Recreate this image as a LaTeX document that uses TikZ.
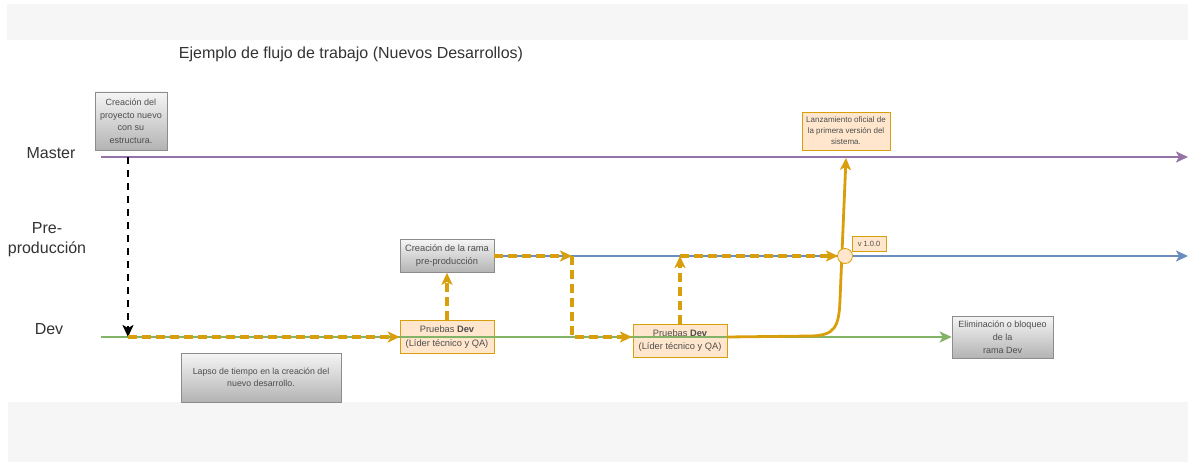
\documentclass[tikz,border=0pt]{standalone}
\usepackage{fontspec}
\setmainfont{Liberation Sans}
\usetikzlibrary{arrows.meta}

\definecolor{band}{HTML}{F6F6F6}
\definecolor{txt}{HTML}{333333}
\definecolor{boxtxt}{HTML}{4D4D4D}
\definecolor{masterc}{HTML}{9673A6}
\definecolor{prec}{HTML}{6C8EBF}
\definecolor{devc}{HTML}{82B366}
\definecolor{flowc}{HTML}{D99E0B}
\definecolor{peach}{HTML}{FFE6CC}
\definecolor{gtop}{HTML}{F5F5F5}
\definecolor{gbot}{HTML}{B3B3B3}
\definecolor{gedge}{HTML}{8C8C8C}

\tikzset{
  tip/.style={-{Stealth[length=12pt,width=11pt,inset=3pt]}},
  graybox/.style={draw=gedge, line width=0.6pt, top color=gtop, bottom color=gbot,
    align=center, inner sep=1pt, text=boxtxt},
  peachbox/.style={draw=flowc, line width=0.6pt, fill=peach,
    align=center, inner sep=1pt, text=boxtxt},
  lane/.style={font=\fontsize{16}{20}\selectfont, text=txt, align=center},
  branchline/.style={line width=2.8pt},
  flowdash/.style={draw=flowc, line width=3.2pt, dash pattern=on 9pt off 5pt},
  flowsolid/.style={draw=flowc, line width=2.8pt},
}

\begin{document}
\begin{tikzpicture}[x=1pt, y=-1pt]
\useasboundingbox (0,0) rectangle (1188,462);

% header and footer bands
\fill[band] (7,4) rectangle (1188,40);
\fill[band] (8,402) rectangle (1188,462);

% title
\node[font=\fontsize{16}{20}\selectfont, text=txt, anchor=base] (title) at (351,59)
  {Ejemplo de flujo de trabajo (Nuevos Desarrollos)};

% lane labels
\node[lane, anchor=base] (lmaster) at (51,159) {Master};
\node[lane] (lpre) at (47,240) {Pre-\\producción};
\node[lane, anchor=base] (ldev) at (49,334) {Dev};

% boxes
\node[graybox, minimum width=72pt, minimum height=58pt,
  font=\fontsize{9}{12.5}\selectfont] (proj) at (131,121)
  {Creación del\\proyecto nuevo\\con su\\estructura.};
\node[graybox, minimum width=94pt, minimum height=33pt,
  font=\fontsize{9.3}{13}\selectfont] (rama) at (447,256)
  {Creación de la rama\\pre-producción};
\node[peachbox, minimum width=94pt, minimum height=33pt,
  font=\fontsize{9.3}{13.5}\selectfont] (p1) at (447,337)
  {Pruebas \textbf{Dev}\\(Líder técnico y QA)};
\node[peachbox, minimum width=94pt, minimum height=33pt,
  font=\fontsize{9.3}{13.5}\selectfont] (p2) at (680,340.5)
  {Pruebas \textbf{Dev}\\(Líder técnico y QA)};
\node[graybox, minimum width=160pt, minimum height=49pt,
  font=\fontsize{8.8}{11.5}\selectfont] (lapso) at (261,377.5)
  {Lapso de tiempo en la creación del\\nuevo desarrollo.};
\node[graybox, minimum width=101pt, minimum height=42pt,
  font=\fontsize{9}{13}\selectfont] (elim) at (1002.5,337)
  {Eliminación o bloqueo\\de la\\rama Dev};
\node[peachbox, minimum width=88pt, minimum height=38pt,
  font=\fontsize{8}{11}\selectfont] (lanz) at (846,131)
  {Lanzamiento oficial de\\la primera versión del\\sistema.};
\node[peachbox, minimum width=34pt, minimum height=15pt,
  font=\fontsize{7.5}{8}\selectfont] (ver) at (869,243.5) {v 1.0.0};

% branch line end points
\coordinate (mstart) at (101,157);
\coordinate (mend) at (1188,157);
\coordinate (dstart) at (101,337);
\coordinate (pend) at (1188,256);
\coordinate (split) at (128,337);
\coordinate (mdrop) at (128,157);
\coordinate (j1) at (572,256);
\coordinate (j1d) at (572,337);
\coordinate (p2in) at (632,337);
\coordinate (j2) at (680,256);
\coordinate (p2out) at (727,337);
\coordinate (rel) at (845,256);
\coordinate (mhit) at (846,158);

% branches
\draw[branchline, masterc, tip] (mstart) -- (mend);
\draw[branchline, prec, tip] (rama.east |- pend) -- (pend);
\draw[branchline, devc, tip] (dstart) -- (elim.west);

% project creation drop to Dev
\draw[line width=2.6pt, black, dash pattern=on 7pt off 6pt, tip] (mdrop) -- (split);

% flow of work along the branches
\draw[flowdash, tip] (split) -- (p1.west);
\draw[flowdash, tip] (p1.north) -- (rama.south);
\draw[flowdash, tip] (rama.east |- j1) -- (j1);
\draw[flowdash, tip] (j1) -- (j1d) -- (p2in);
\draw[flowdash, tip] (p2.north) -- (j2);
\draw[flowdash, tip] (j2) -- ([xshift=-7pt]rel);

% release to Master
\draw[flowsolid, tip] (p2out) -- (812,336)
  .. controls (834,335) and (839,328) .. (840,300) -- (mhit);

% release point
\node[circle, draw=flowc, line width=0.8pt, fill=peach, minimum size=15pt, inner sep=0pt]
  (relpt) at (rel) {};
\end{tikzpicture}
\end{document}
